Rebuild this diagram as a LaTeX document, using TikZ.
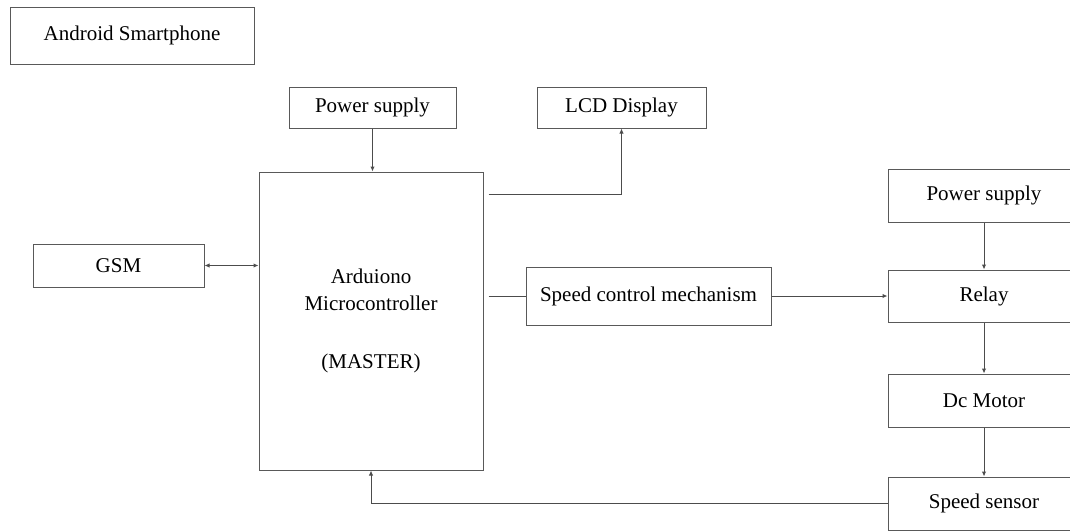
\documentclass[tikz,border=0pt]{standalone}
\usepackage{fontspec}
\setmainfont{Liberation Serif}
\usepackage{tikz}
\usetikzlibrary{arrows.meta,positioning,calc}

\begin{document}
\begin{tikzpicture}[
  x=1pt,y=-1pt,
  blk/.style={draw=black!65,line width=1pt,inner sep=0pt,
    font=\fontsize{21}{27}\selectfont,align=center},
  arr/.style={-{Latex[length=5pt,width=4.5pt]},line width=1pt,black!70},
  lnk/.style={line width=1pt,black!70}
]
  \useasboundingbox (0,0) rectangle (1070,531);
  % Top row
  \node[blk,minimum width=244,minimum height=57] (phone) at (132,35.5) {Android Smartphone};
  \node[blk,minimum width=167,minimum height=41] (pwrA) at (372.5,107.5) {Power supply};
  \node[blk,minimum width=169,minimum height=41] (lcd) at (621.5,107.5) {LCD Display};
  % Master
  \node[blk,minimum width=224,minimum height=298] (mcu) at (371,321) {Arduiono\\Microcontroller\\[31pt](MASTER)};
  \node[blk,minimum width=171,minimum height=43] (gsm) at (118.5,265.5) {GSM};
  \node[blk,minimum width=245,minimum height=58] (ctrl) at (648.5,296) {Speed control mechanism};
  % Motor side
  \node[blk,minimum width=192,minimum height=53] (pwrB) at (984,195.5) {Power supply};
  \node[blk,minimum width=192,minimum height=52] (relay) at (984,296) {Relay};
  \node[blk,minimum width=192,minimum height=53] (motor) at (984,400.5) {Dc Motor};
  \node[blk,minimum width=192,minimum height=53] (sensor) at (984,503.5) {Speed sensor};
  % Connections
  \draw[arr] (pwrA.south) -- (pwrA.south |- mcu.north);
  \draw[arr] ([xshift=5pt,yshift=-23pt]mcu.north east) -| (lcd.south);
  \draw[arr,{Latex[length=5pt,width=4.5pt]}-{Latex[length=5pt,width=4.5pt]}] (gsm.east) -- (mcu.west |- gsm.east);
  \draw[lnk] ($(mcu.east |- ctrl.west)+(5,0)$) -- (ctrl.west);
  \draw[arr] (ctrl.east) -- (relay.west);
  \draw[arr] (pwrB) -- (relay);
  \draw[arr] (relay) -- (motor);
  \draw[arr] (motor) -- (sensor);
  \draw[arr] (sensor.west) -| (mcu.south);
\end{tikzpicture}
\end{document}
